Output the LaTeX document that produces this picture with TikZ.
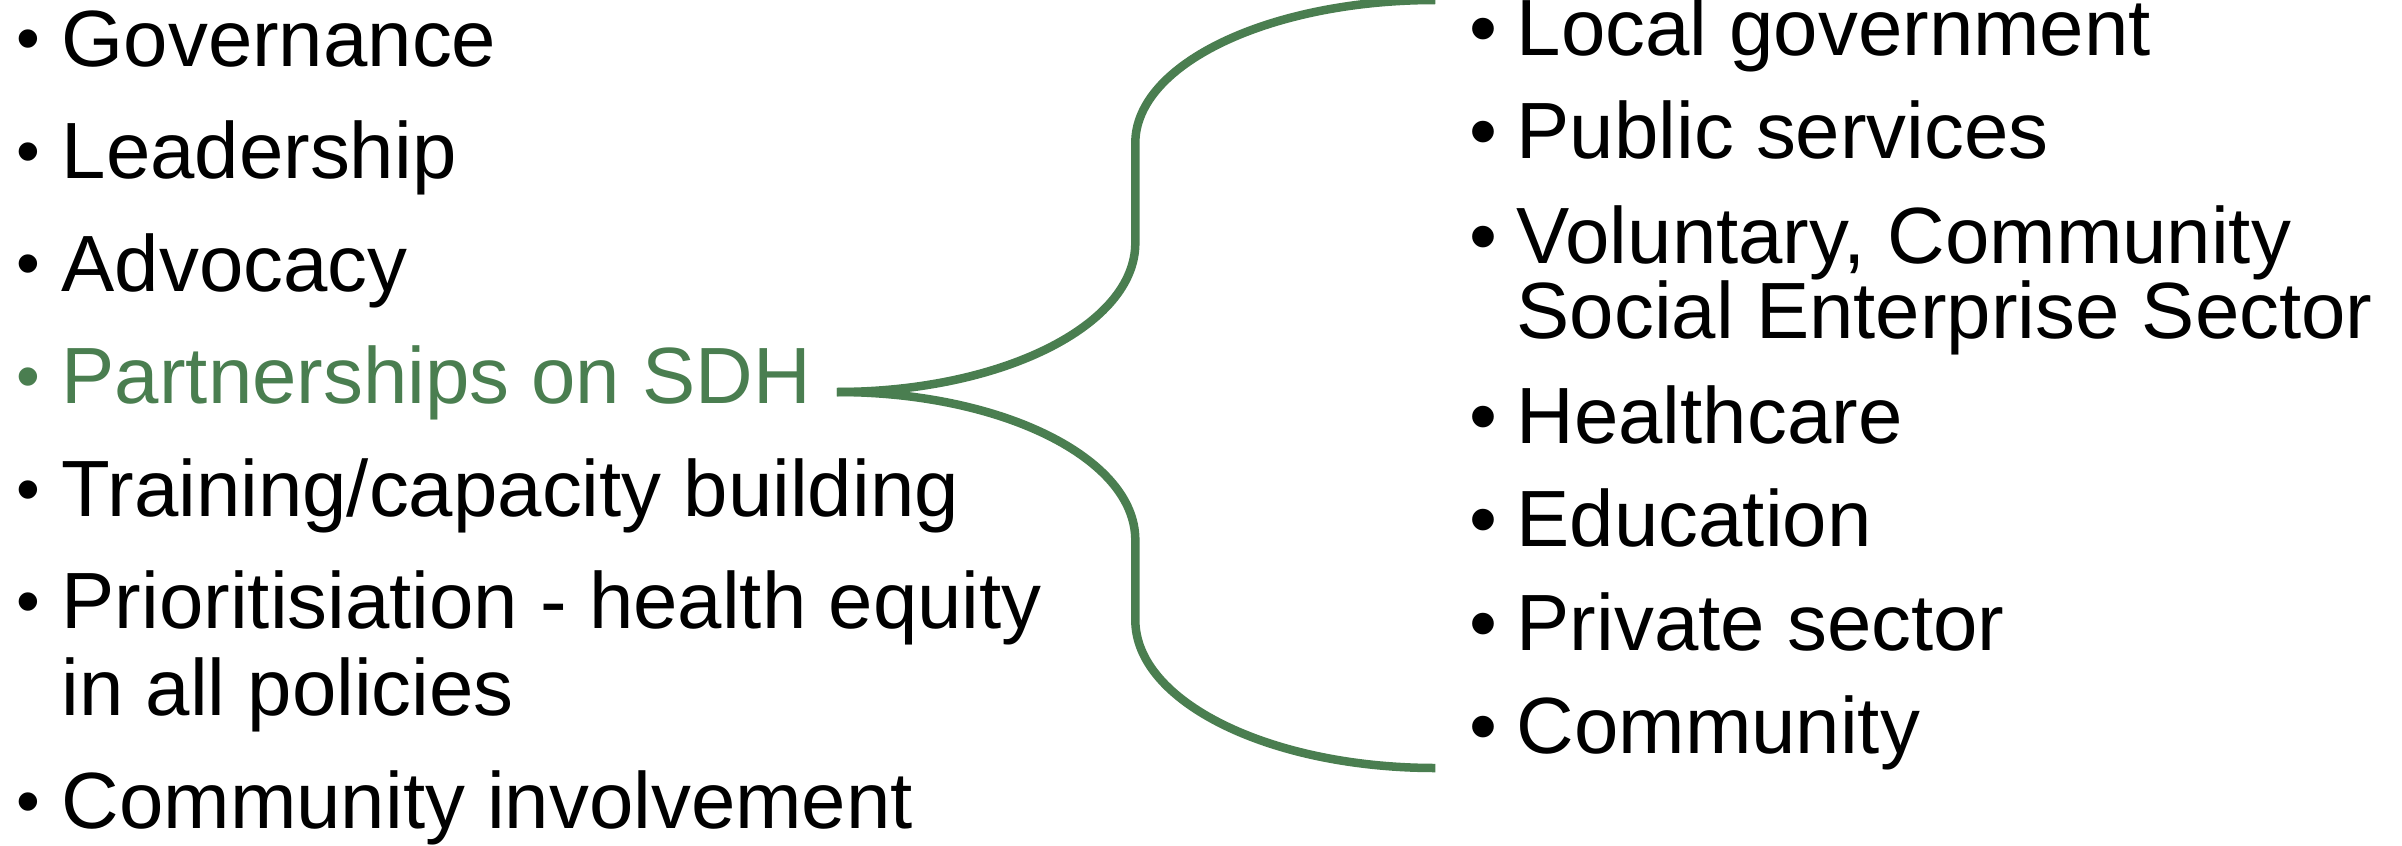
\documentclass[tikz,border=0pt]{standalone}
\usepackage{fontspec}
\setmainfont{Liberation Sans}
\usetikzlibrary{positioning}
\definecolor{sdhgreen}{RGB}{74,126,80}
\newcommand{\smallbul}{\makebox[0.456cm][l]{\raisebox{0.045cm}{\scalebox{0.85}{\textbullet}}}}
\newcommand{\bigbul}{\makebox[0.468cm][l]{\textbullet}}

\begin{document}
\begin{tikzpicture}[
lefti/.style={
  anchor=base west,
  inner sep=0pt,
  align=left,
  font=\fontsize{22.7pt}{0.87cm}\selectfont
},
righti/.style={
  anchor=base west,
  inner sep=0pt,
  align=left,
  font=\fontsize{22.7pt}{0.75cm}\selectfont
},
brace/.style={
  draw=sdhgreen,
  line width=0.085cm
}
]
\useasboundingbox (0,0) rectangle (24.02,8.45);

% what the team works on
\node[lefti] (gov) at (0.154,7.79) {\smallbul Governance};
\node[lefti] (lead) at (0.154,6.665) {\smallbul Leadership};
\node[lefti] (adv) at (0.154,5.54) {\smallbul Advocacy};
\node[lefti,text=sdhgreen] (sdh) at (0.154,4.415) {\smallbul Partnerships on SDH};
\node[lefti] (train) at (0.154,3.285) {\smallbul Training/capacity building};
% base of a two-line node is its last line
\node[lefti] (prio) at (0.154,1.295)
  {\smallbul Prioritisiation - health equity\\\hspace*{0.456cm}in all policies};
\node[lefti] (inv) at (0.154,0.165) {\smallbul Community involvement};

% partners
\node[righti] (lg) at (14.692,7.893) {\bigbul Local government};
\node[righti] (pub) at (14.692,6.867) {\bigbul Public services};
\node[righti] (vol) at (14.692,5.067)
  {\bigbul Voluntary, Community\\\hspace*{0.468cm}Social Enterprise Sector};
\node[righti] (hc) at (14.692,4.017) {\bigbul Healthcare};
\node[righti] (edu) at (14.692,2.983) {\bigbul Education};
\node[righti] (priv) at (14.692,1.95) {\bigbul Private sector};
\node[righti] (com) at (14.692,0.917) {\bigbul Community};

% the brace
\coordinate[above right=0.115cm and 0.25cm of sdh.base east] (tip);
\draw[brace] (tip)
  arc[start angle=-90,end angle=0,x radius=2.985cm,y radius=1.49cm]
  -- ++(0,1)
  arc[start angle=180,end angle=90,x radius=3cm,y radius=1.43cm];
\draw[brace] (tip)
  arc[start angle=90,end angle=0,x radius=2.985cm,y radius=1.48cm]
  -- ++(0,-0.8)
  arc[start angle=180,end angle=270,x radius=3cm,y radius=1.48cm];
\end{tikzpicture}
\end{document}
